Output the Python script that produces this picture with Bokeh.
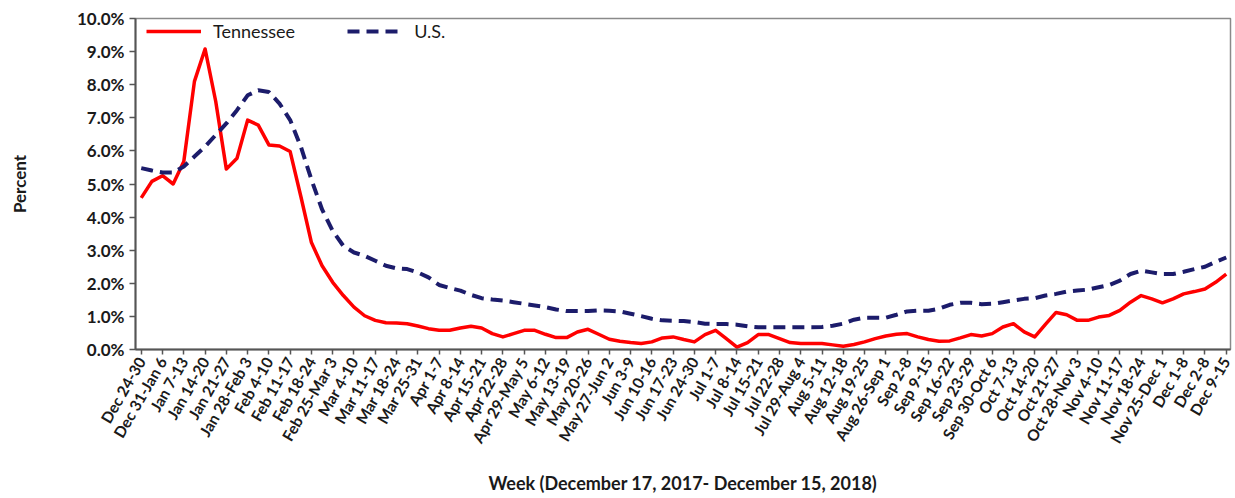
import math
import numpy as np
from bokeh.plotting import figure
from bokeh.models import Range1d, FixedTicker, PrintfTickFormatter, Legend, LegendItem
from bokeh.embed import file_html
from bokeh.resources import INLINE

weeks = ["Dec 24-30", "Dec 31-Jan 6", "Jan 7-13", "Jan 14-20", "Jan 21-27", "Jan 28-Feb 3",
         "Feb 4-10", "Feb 11-17", "Feb 18-24", "Feb 25-Mar 3", "Mar 4-10", "Mar 11-17",
         "Mar 18-24", "Mar 25-31", "Apr 1-7", "Apr 8-14", "Apr 15-21", "Apr 22-28",
         "Apr 29-May 5", "May 6-12", "May 13-19", "May 20-26", "May 27-Jun 2", "Jun 3-9",
         "Jun 10-16", "Jun 17-23", "Jun 24-30", "Jul 1-7", "Jul 8-14", "Jul 15-21",
         "Jul 22-28", "Jul 29-Aug 4", "Aug 5-11", "Aug 12-18", "Aug 19-25", "Aug 26-Sep 1",
         "Sep 2-8", "Sep 9-15", "Sep 16-22", "Sep 23-29", "Sep 30-Oct 6", "Oct 7-13",
         "Oct 14-20", "Oct 21-27", "Oct 28-Nov 3", "Nov 4-10", "Nov 11-17", "Nov 18-24",
         "Nov 25-Dec 1", "Dec 1-8", "Dec 2-8", "Dec 9-15"]

# values sampled every half week (percent)
tennessee = [4.58, 5.08, 5.25, 5.00, 5.68, 8.10, 9.08, 7.50, 5.45, 5.78,
             6.93, 6.78, 6.18, 6.15, 5.98, 4.63, 3.23, 2.53, 2.03, 1.63,
             1.28, 1.02, 0.88, 0.81, 0.80, 0.78, 0.71, 0.63, 0.58, 0.58,
             0.65, 0.70, 0.65, 0.48, 0.38, 0.48, 0.58, 0.58, 0.46, 0.36,
             0.36, 0.53, 0.61, 0.46, 0.31, 0.25, 0.21, 0.18, 0.23, 0.35,
             0.38, 0.30, 0.23, 0.45, 0.58, 0.33, 0.07, 0.21, 0.45, 0.45,
             0.33, 0.21, 0.18, 0.18, 0.18, 0.14, 0.10, 0.15, 0.23, 0.33,
             0.41, 0.46, 0.48, 0.38, 0.30, 0.25, 0.26, 0.35, 0.45, 0.41,
             0.48, 0.68, 0.78, 0.53, 0.38, 0.76, 1.12, 1.05, 0.88, 0.88,
             0.98, 1.03, 1.18, 1.43, 1.63, 1.53, 1.41, 1.53, 1.68, 1.75,
             1.83, 2.03, 2.28]

us = [5.48, 5.41, 5.35, 5.35, 5.53, 5.83, 6.13, 6.48, 6.83, 7.23,
      7.68, 7.83, 7.78, 7.43, 6.93, 6.13, 5.13, 4.23, 3.58, 3.13,
      2.93, 2.83, 2.68, 2.53, 2.45, 2.43, 2.33, 2.18, 1.95, 1.86,
      1.78, 1.65, 1.55, 1.51, 1.48, 1.43, 1.38, 1.33, 1.28, 1.21,
      1.16, 1.16, 1.16, 1.18, 1.17, 1.15, 1.08, 1.01, 0.93, 0.88,
      0.87, 0.86, 0.83, 0.78, 0.77, 0.77, 0.75, 0.70, 0.67, 0.67,
      0.67, 0.67, 0.67, 0.67, 0.68, 0.72, 0.78, 0.90, 0.96, 0.96,
      0.96, 1.05, 1.15, 1.17, 1.17, 1.23, 1.35, 1.41, 1.41, 1.37,
      1.38, 1.43, 1.48, 1.53, 1.55, 1.63, 1.68, 1.75, 1.78, 1.81,
      1.88, 1.95, 2.08, 2.28, 2.38, 2.33, 2.28, 2.28, 2.35, 2.43,
      2.50, 2.65, 2.78]

y_ticks = [0, 1, 2, 3, 4, 5, 6, 7, 8, 9, 10]

xs = np.arange(len(tennessee)) / 2.0

FONT = "Lato"

p = figure(width=1233, height=496, output_backend="svg", toolbar_location=None,
           x_range=Range1d(-0.27, 51.2), y_range=Range1d(0, 10),
           min_border_left=135, min_border_right=3, min_border_top=18, min_border_bottom=145)

p.background_fill_color = "white"
p.border_fill_color = "white"
p.outline_line_color = "#8a8a8a"
p.outline_line_width = 1.5
p.xgrid.visible = False
p.ygrid.visible = False

r_tn = p.line(xs, tennessee, line_color="#ff0000", line_width=3.5, line_join="round")
r_us = p.line(xs, us, line_color="#1c1c6b", line_width=4, line_dash="12 7")

# axes
xa = p.xaxis[0]
xa.ticker = FixedTicker(ticks=list(range(len(weeks))))
xa.major_label_overrides = {i: w for i, w in enumerate(weeks)}
xa.major_label_orientation = math.pi / 3
xa.major_label_text_font = FONT
xa.major_label_text_font_style = "bold"
xa.major_label_text_font_size = "15.5px"
xa.major_label_text_color = "#1a1a1a"
xa.major_label_standoff = 4
xa.minor_tick_line_color = None
xa.major_tick_in = 0
xa.major_tick_out = 5
xa.major_tick_line_color = "#555555"
xa.major_tick_line_width = 1.5
xa.axis_line_color = "#555555"
xa.axis_line_width = 2
xa.axis_label = "Week (December 17, 2017- December 15, 2018)"
xa.axis_label_text_font = FONT
xa.axis_label_text_font_style = "bold"
xa.axis_label_text_font_size = "18px"
xa.axis_label_text_color = "#1a1a1a"
xa.axis_label_standoff = 18

ya = p.yaxis[0]
ya.ticker = FixedTicker(ticks=y_ticks)
ya.formatter = PrintfTickFormatter(format="%.1f%%")
ya.major_label_text_font = FONT
ya.major_label_text_font_style = "bold"
ya.major_label_text_font_size = "17px"
ya.major_label_text_color = "#1a1a1a"
ya.major_label_standoff = 5
ya.minor_tick_line_color = None
ya.major_tick_in = 0
ya.major_tick_out = 6
ya.major_tick_line_color = "#555555"
ya.major_tick_line_width = 1.5
ya.axis_line_color = "#555555"
ya.axis_line_width = 2
ya.axis_label = "Percent"
ya.axis_label_text_font = FONT
ya.axis_label_text_font_style = "bold"
ya.axis_label_text_font_size = "17px"
ya.axis_label_text_color = "#1a1a1a"
ya.axis_label_standoff = 44

legend = Legend(items=[LegendItem(label="Tennessee", renderers=[r_tn]),
                       LegendItem(label="U.S.", renderers=[r_us])],
                orientation="horizontal", location=(11, 307))
legend.border_line_color = None
legend.background_fill_alpha = 0
legend.padding = 2
legend.margin = 0
legend.glyph_width = 55
legend.glyph_height = 18
legend.label_height = 18
legend.label_standoff = 12
legend.spacing = 52
legend.label_text_font = FONT
legend.label_text_font_size = "18px"
legend.label_text_color = "#1a1a1a"
p.add_layout(legend, "center")

open("out.html", "w").write(file_html(p, INLINE))
